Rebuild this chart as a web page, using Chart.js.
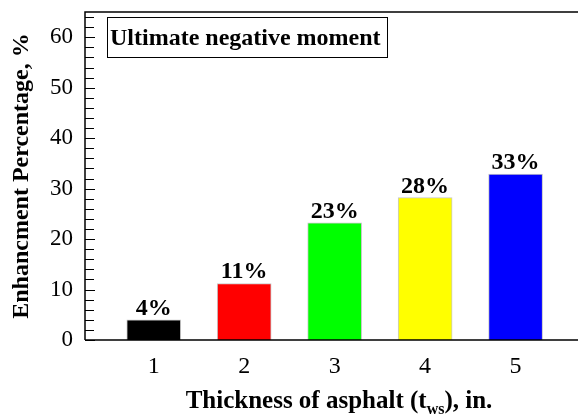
<!DOCTYPE html>
<html>
<head>
<meta charset="utf-8">
<script src="https://cdn.jsdelivr.net/npm/chart.js@4.4.1/dist/chart.umd.min.js"></script>
<style>
  html, body { margin: 0; padding: 0; background: #fff; }
  #wrap { width: 578px; height: 419px; position: relative; }
</style>
</head>
<body>
<div id="wrap"><canvas id="barChart"></canvas></div>
<script>
// --- data ---
const thickness = [1, 2, 3, 4, 5];
const enhancement = [4.0, 11.2, 23.2, 28.2, 32.9];
const barColors = ['#000000', '#ff0000', '#00ff00', '#ffff00', '#0000ff'];
const yMajorTicks = [0, 10, 20, 30, 40, 50, 60];
const boxText = 'Ultimate negative moment';
const yTitle = 'Enhancment Percentage, %';

const SERIF = '"Liberation Serif", "Times New Roman", serif';

// inward ticks, frame lines, titles, value labels
const decorPlugin = {
    id: 'decor',
    afterDraw(chart) {
        const ctx = chart.ctx;
        const area = chart.chartArea;
        const y = chart.scales.y;
        const x = chart.scales.x;
        ctx.save();
        ctx.strokeStyle = '#000';

        // frame: left, top, bottom
        ctx.lineWidth = 1.5;
        ctx.beginPath();
        ctx.moveTo(area.left, area.bottom);
        ctx.lineTo(area.left, area.top);
        ctx.lineTo(area.right, area.top);
        ctx.moveTo(area.left, area.bottom);
        ctx.lineTo(area.right, area.bottom);
        ctx.stroke();

        // y ticks pointing inward, minor every 2
        ctx.lineWidth = 1;
        for (let v = 0; v <= 64; v += 2) {
            const py = Math.round(y.getPixelForValue(v)) + 0.5;
            const len = v % 10 === 0 ? 10 : 9;
            ctx.beginPath();
            ctx.moveTo(area.left, py);
            ctx.lineTo(area.left + len, py);
            ctx.stroke();
        }

        // value labels
        ctx.fillStyle = '#000';
        ctx.font = 'bold 24px ' + SERIF;
        ctx.textAlign = 'center';
        ctx.textBaseline = 'alphabetic';
        thickness.forEach((t, i) => {
            const px = x.getPixelForValue(t);
            const py = y.getPixelForValue(enhancement[i]);
            ctx.fillText(Math.round(enhancement[i]) + '%', px, py - 5);
        });

        // annotation box
        ctx.lineWidth = 1;
        ctx.strokeRect(107.5, 17.5, 280, 40);
        ctx.font = 'bold 24px ' + SERIF;
        ctx.textAlign = 'left';
        ctx.fillText(boxText, 110, 45);

        // x title with subscript
        const main1 = 'Thickness of asphalt (t';
        const sub = 'ws';
        const main2 = '), in.';
        ctx.font = 'bold 25px ' + SERIF;
        const w1 = ctx.measureText(main1).width;
        const w3 = ctx.measureText(main2).width;
        ctx.font = 'bold 16px ' + SERIF;
        const w2 = ctx.measureText(sub).width;
        let sx = 339 - (w1 + w2 + w3) / 2;
        const base = 408;
        ctx.font = 'bold 25px ' + SERIF;
        ctx.fillText(main1, sx, base);
        sx += w1;
        ctx.font = 'bold 16px ' + SERIF;
        ctx.fillText(sub, sx, base + 6);
        sx += w2;
        ctx.font = 'bold 25px ' + SERIF;
        ctx.fillText(main2, sx, base);

        // y title
        ctx.translate(28, (area.top + area.bottom) / 2);
        ctx.rotate(-Math.PI / 2);
        ctx.textAlign = 'center';
        ctx.font = 'bold 24px ' + SERIF;
        ctx.fillText(yTitle, 0, 0);
        ctx.restore();
    }
};

const ctx = document.getElementById('barChart').getContext('2d');
const barChart = new Chart(ctx, {
    type: 'bar',
    data: {
        datasets: [{
            data: thickness.map((t, i) => ({ x: t, y: enhancement[i] })),
            backgroundColor: barColors,
            borderColor: '#c8c8c8',
            borderWidth: 1,
            barThickness: 54
        }]
    },
    options: {
        responsive: true,
        maintainAspectRatio: false,
        animation: false,
        layout: { padding: { left: 0, top: 12, right: 0, bottom: 0 } },
        plugins: { legend: { display: false }, tooltip: { enabled: false } },
        scales: {
            x: {
                type: 'linear',
                offset: false,
                min: 0.24,
                max: 5.69,
                grid: { display: false, drawTicks: false, offset: false },
                border: { display: false },
                afterBuildTicks: (scale) => { scale.ticks = thickness.map(v => ({ value: v })); },
                afterFit: (scale) => {
                    scale.height = 79;
                    scale.paddingLeft = 0;
                    scale.paddingRight = 0;
                },
                ticks: {
                    padding: 12,
                    color: '#000',
                    font: { family: SERIF, size: 24 }
                }
            },
            y: {
                min: 0,
                max: 65,
                grid: { display: false, drawTicks: false },
                border: { display: false },
                afterBuildTicks: (scale) => { scale.ticks = yMajorTicks.map(v => ({ value: v })); },
                afterFit: (scale) => {
                    scale.width = 85;
                    scale.paddingTop = 0;
                    scale.paddingBottom = 0;
                },
                ticks: {
                    padding: 12,
                    color: '#000',
                    font: { family: SERIF, size: 23 }
                }
            }
        }
    },
    plugins: [decorPlugin]
});
</script>
</body>
</html>
